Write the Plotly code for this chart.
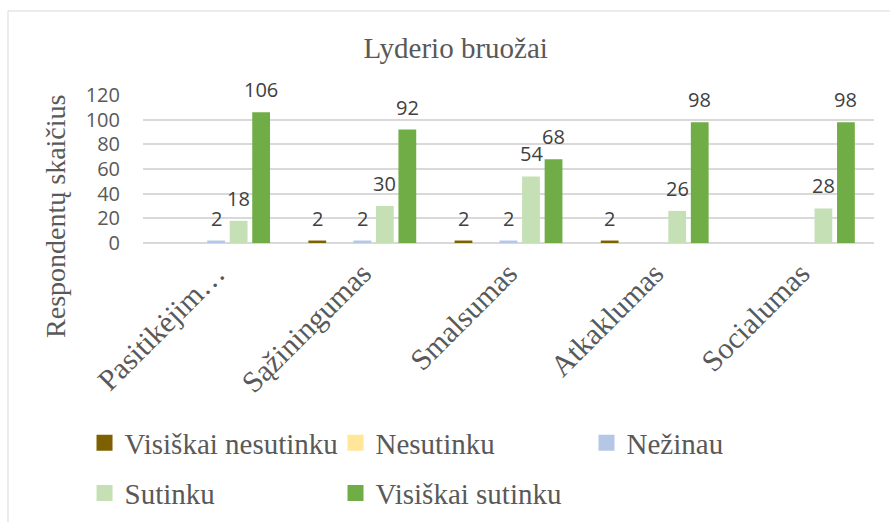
import plotly.graph_objects as go

# --- Datos ---
categories = ['Pasitikėjim…', 'Sąžiningumas', 'Smalsumas', 'Atkaklumas', 'Socialumas']
series_names = ['Visiškai nesutinku', 'Nesutinku', 'Nežinau', 'Sutinku', 'Visiškai sutinku']
visiskai_nesutinku = [0, 2, 2, 2, 0]
nesutinku = [0, 0, 0, 0, 0]
nezinau = [2, 2, 2, 0, 0]
sutinku = [18, 30, 54, 26, 28]
visiskai_sutinku = [106, 92, 68, 98, 98]
y_ticks = [0, 20, 40, 60, 80, 100, 120]

values = [visiskai_nesutinku, nesutinku, nezinau, sutinku, visiskai_sutinku]
colors = ['#7f6000', '#ffe699', '#b4c7e7', '#c5e0b4', '#70ad47']
legend_ids = ['legend', 'legend', 'legend', 'legend2', 'legend2']

SERIF = 'Liberation Serif'
SANS = 'Open Sans'
GRAY = '#595959'

# geometria de las barras (px)
PLOT_W = 890 - 143 - 16
BARGAP, GROUPGAP = 0.23, 0.21
step = PLOT_W / len(categories) * (1 - BARGAP) / len(series_names)

fig = go.Figure()
for i, (name, vals, col, lg) in enumerate(zip(series_names, values, colors, legend_ids)):
    fig.add_trace(go.Bar(
        x=categories, y=vals, name=name,
        marker=dict(color=col, line=dict(width=0)),
        showlegend=False,
        hovertemplate='%{x}<br>' + name + ': %{y}<extra></extra>',
    ))
    # entrada de leyenda con cuadrado de 16px
    fig.add_trace(go.Scatter(
        x=[None], y=[None], mode='markers', name=name,
        marker=dict(symbol='square', size=16, color=col),
        legend=lg,
    ))
    # etiquetas de datos (solo valores > 0)
    off = (i - (len(series_names) - 1) / 2) * step
    for cat, v in zip(categories, vals):
        if v:
            fig.add_annotation(x=cat, y=v, text=str(v), showarrow=False,
                               xshift=off, yshift=7, yanchor='bottom',
                               font=dict(family=SANS, size=20, color='#404040'))

# marco gris del area del grafico
fig.add_shape(type='rect', xref='paper', yref='paper',
              x0=-0.1847, x1=1.03, y0=-2.0, y1=1.5676,
              line=dict(color='#d9d9d9', width=1), layer='below')

# titulo del eje Y
fig.add_annotation(text='Respondentų skaičius', textangle=-90, showarrow=False,
                   xref='paper', yref='paper', x=-0.119, y=0.176,
                   xanchor='center', yanchor='middle',
                   font=dict(family=SERIF, size=28, color=GRAY))

legend_common = dict(
    orientation='h',
    font=dict(family=SERIF, size=29, color=GRAY),
    entrywidthmode='pixels', entrywidth=206,
    bgcolor='rgba(0,0,0,0)', borderwidth=0,
    xanchor='left', yanchor='middle', xref='paper', yref='paper',
)

fig.update_layout(
    width=890, height=522,
    margin=dict(l=143, r=16, t=95, b=279, autoexpand=False),
    paper_bgcolor='white', plot_bgcolor='white',
    barmode='group', bargap=BARGAP, bargroupgap=GROUPGAP,
    title=dict(text='Lyderio bruožai', font=dict(family=SERIF, size=29, color=GRAY),
               x=0.512, xanchor='center', xref='container',
               y=0.908, yanchor='middle', yref='container'),
    legend=dict(x=-0.08, y=-1.35, **legend_common),
    legend2=dict(x=-0.08, y=-1.69, **legend_common),
)

fig.update_xaxes(
    tickangle=-45,
    tickfont=dict(family=SERIF, size=30, color=GRAY),
    showline=False, showgrid=False,
    ticks='outside', ticklen=0, tickcolor='rgba(0,0,0,0)',
    automargin=False,
)
fig.update_yaxes(
    range=[0, 120], tickvals=y_ticks,
    tickfont=dict(family=SANS, size=20, color=GRAY),
    gridcolor='#d9d9d9', gridwidth=1.5,
    zeroline=True, zerolinecolor='#d9d9d9', zerolinewidth=1.5,
    showline=False,
    ticklabelstandoff=22,
    automargin=False,
)

# quitar el margen por defecto del <body>
fig.write_html('out.html', config={'displayModeBar': False},
               post_script="document.body.style.margin='0';")
